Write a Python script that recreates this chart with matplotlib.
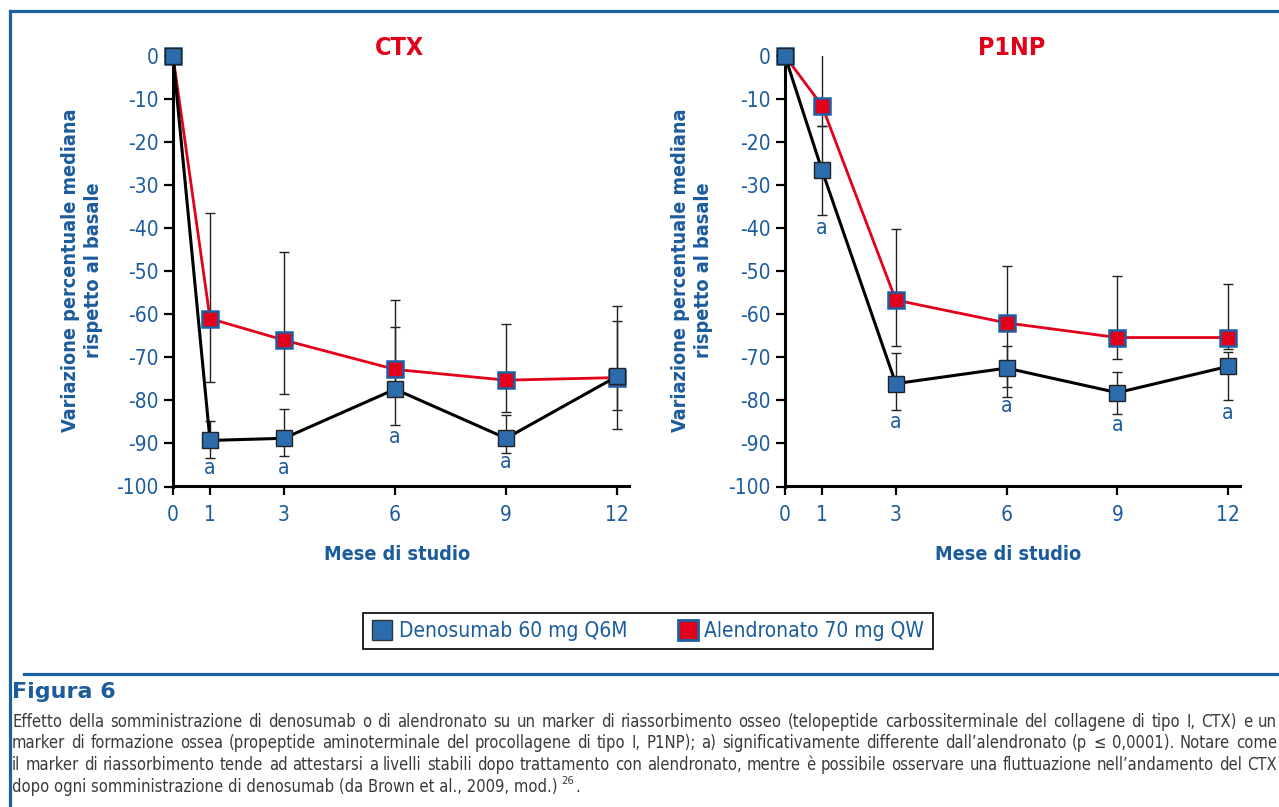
import matplotlib
matplotlib.use('Agg')
import matplotlib.pyplot as plt
from matplotlib import font_manager
from matplotlib.font_manager import FontProperties
from matplotlib.lines import Line2D

# ---- data ----
months = [0, 1, 3, 6, 9, 12]
tick_labels = ['0', '1', '3', '6', '9', '12']
y_ticks = [0, -10, -20, -30, -40, -50, -60, -70, -80, -90, -100]

ctx_deno = [0, -89.3, -88.8, -77.4, -88.8, -74.4]
ctx_deno_hi = [0, -84.8, -82.0, -63.0, -83.3, -61.6]
ctx_deno_lo = [0, -93.4, -93.0, -85.8, -92.3, -86.7]
ctx_alen = [0, -61.0, -66.0, -72.8, -75.3, -74.7]
ctx_alen_hi = [0, -36.5, -45.5, -56.6, -62.2, -58.1]
ctx_alen_lo = [0, -75.7, -78.5, -77.5, -82.6, -82.2]
ctx_sig_x = [1, 3, 6, 9]
ctx_sig_y = [-95.6, -95.6, -88.6, -94.4]

p1np_deno = [0, -26.5, -76.1, -72.5, -78.2, -72.1]
p1np_deno_hi = [0, -16.3, -69.1, -67.4, -73.4, -68.8]
p1np_deno_lo = [0, -37.0, -82.2, -79.2, -83.1, -80.0]
p1np_alen = [0, -11.5, -56.7, -62.0, -65.4, -65.4]
p1np_alen_hi = [0, 1.2, -40.1, -48.8, -51.2, -52.9]
p1np_alen_lo = [0, -16.3, -67.4, -77.0, -70.3, -68.0]
p1np_sig_x = [1, 3, 6, 9, 12]
p1np_sig_y = [-39.9, -85.0, -81.4, -85.7, -82.9]

legend_labels = ['Denosumab 60 mg Q6M', 'Alendronato 70 mg QW']

caption_title = 'Figura 6'
caption_lines = [
    'Effetto della somministrazione di denosumab o di alendronato su un marker di riassorbimento osseo (telopeptide carbossiterminale del collagene di tipo I, CTX) e un',
    'marker di formazione ossea (propeptide aminoterminale del procollagene di tipo I, P1NP); a) significativamente differente dall\u2019alendronato (p \u2264 0,0001). Notare come',
    'il marker di riassorbimento tende ad attestarsi a livelli stabili dopo trattamento con alendronato, mentre \u00e8 possibile osservare una fluttuazione nell\u2019andamento del CTX',
    'dopo ogni somministrazione di denosumab (da Brown et al., 2009, mod.)',
]

# ---- style ----
W, H = 1279, 807
BLUE_TXT = '#1c5c9c'
BLUE_MK = '#2c6cad'
RED = '#e2001a'
FRAME = '#1d5fa3'


def pick_font(bold):
    # look for a narrow / condensed face among installed fonts
    best = None
    for f in font_manager.fontManager.ttflist:
        fn = f.fname.lower()
        narrow = ('narrow' in fn or 'condensed' in fn or f.stretch in ('condensed', 'semi-condensed'))
        if not narrow or f.style != 'normal' or 'extra' in fn or 'semi' in fn and 'condensed' not in fn:
            continue
        is_bold = f.weight in (700, 'bold') or 'bold' in fn
        if is_bold != bold:
            continue
        rank = 0 if 'liberation' in fn else 1 if 'dejavu' in fn else 2
        if best is None or rank < best[0]:
            best = (rank, f.fname)
    return best[1] if best else None


REG_FILE = pick_font(False)
BOLD_FILE = pick_font(True)


def fp(size, bold=False):
    fname = BOLD_FILE if bold else REG_FILE
    if fname:
        return FontProperties(fname=fname, size=size)
    return FontProperties(family='DejaVu Sans', size=size, weight='bold' if bold else 'normal')


fig = plt.figure(figsize=(W / 100, H / 100), dpi=100)


def px_axes(left, right, top, bottom):
    return fig.add_axes([left / W, 1 - bottom / H, (right - left) / W, (bottom - top) / H])


def panel(ax, deno, deno_hi, deno_lo, alen, alen_hi, alen_lo, sig_x, sig_y):
    x = months[1:]
    err_a = [[a - l for a, l in zip(alen[1:], alen_lo[1:])],
             [h - a for a, h in zip(alen[1:], alen_hi[1:])]]
    err_d = [[d - l for d, l in zip(deno[1:], deno_lo[1:])],
             [h - d for d, h in zip(deno[1:], deno_hi[1:])]]
    ax.errorbar(x, alen[1:], yerr=err_a, fmt='none', ecolor='#222222',
                elinewidth=1.0, capsize=3.5, capthick=1.0, zorder=2)
    ax.errorbar(x, deno[1:], yerr=err_d, fmt='none', ecolor='#222222',
                elinewidth=1.0, capsize=3.5, capthick=1.0, zorder=2)
    ax.plot(months, alen, color=RED, lw=2.0, marker='s', ms=11, mfc=RED,
            mec=FRAME, mew=1.8, zorder=3, clip_on=False)
    ax.plot(months, deno, color='black', lw=2.2, marker='s', ms=11, mfc=BLUE_MK,
            mec='#222222', mew=1.0, zorder=4, clip_on=False)
    for sx, sy in zip(sig_x, sig_y):
        ax.text(sx, sy, 'a', ha='center', va='center', color=BLUE_TXT,
                fontproperties=fp(15))

    ax.set_xlim(0, 12.32)
    ax.set_ylim(-100, 0)
    ax.set_xticks(months)
    ax.set_xticklabels(tick_labels)
    ax.set_yticks(y_ticks)
    ax.set_yticklabels([str(v) for v in y_ticks])
    for s in ['top', 'right']:
        ax.spines[s].set_visible(False)
    for s in ['left', 'bottom']:
        ax.spines[s].set_linewidth(2.2)
    ax.tick_params(axis='both', direction='out', length=6.5, width=1.6,
                   colors='black', labelcolor=BLUE_TXT)
    ax.tick_params(axis='x', pad=7)
    ax.tick_params(axis='y', pad=4)
    for lab in ax.get_xticklabels() + ax.get_yticklabels():
        lab.set_fontproperties(fp(15))
    ax.patch.set_alpha(0)


ax1 = px_axes(173, 629, 56, 486.5)
panel(ax1, ctx_deno, ctx_deno_hi, ctx_deno_lo, ctx_alen, ctx_alen_hi, ctx_alen_lo,
      ctx_sig_x, ctx_sig_y)
ax2 = px_axes(785, 1240, 56, 486.5)
panel(ax2, p1np_deno, p1np_deno_hi, p1np_deno_lo, p1np_alen, p1np_alen_hi, p1np_alen_lo,
      p1np_sig_x, p1np_sig_y)


def ptext(x, y, s, **kw):
    return fig.text(x / W, 1 - y / H, s, **kw)


ylab = 'Variazione percentuale mediana\nrispetto al basale'
for cx, tx, title, lx in [(82, 400, 'CTX', 397), (692, 1012, 'P1NP', 1008)]:
    ptext(cx, 270, ylab, rotation=90, ha='center', va='center', ma='center',
          color=BLUE_TXT, fontproperties=fp(14.2, True), linespacing=1.25)
    ptext(tx, 48, title, ha='center', va='center', color=RED, fontproperties=fp(18, True))
    ptext(lx, 555, 'Mese di studio', ha='center', va='center', color=BLUE_TXT,
          fontproperties=fp(14.2, True))

# legend
h1 = Line2D([], [], ls='none', marker='s', ms=15, mfc=BLUE_MK, mec='#333333', mew=1.0)
h2 = Line2D([], [], ls='none', marker='s', ms=15, mfc=RED, mec=FRAME, mew=2.0)
leg = fig.legend([h1, h2], legend_labels, loc='center',
                 bbox_to_anchor=(648 / W, 1 - 631 / H), ncol=2, frameon=True,
                 fancybox=False, edgecolor='black', framealpha=1,
                 prop=fp(15), handlelength=1.0,
                 handletextpad=0.3, columnspacing=2.4, borderpad=0.4)
leg.get_frame().set_linewidth(1.2)
for t in leg.get_texts():
    t.set_color(BLUE_TXT)

# frame lines
fig.add_artist(Line2D([10 / W, 10 / W], [0, 1 - 11 / H], color=FRAME, lw=2.3))
fig.add_artist(Line2D([10 / W, 1], [1 - 11 / H, 1 - 11 / H], color=FRAME, lw=2.3))
fig.add_artist(Line2D([24 / W, 1], [1 - 673.5 / H, 1 - 673.5 / H], color=FRAME, lw=2.3))

# caption
ptext(12, 692, caption_title, ha='left', va='center', color=BLUE_TXT, fontsize=16,
      weight='heavy', family='DejaVu Sans')

renderer = fig.canvas.get_renderer()
x0, x1 = 12, 1277
# fit caption font so the longest line fits with ordinary spacing
cap_size = 13.0
widest = 0
for line in caption_lines:
    p = ptext(0, 0, line, fontproperties=fp(cap_size))
    widest = max(widest, p.get_window_extent(renderer).width)
    p.remove()
if widest > (x1 - x0) * 0.99:
    cap_size = cap_size * (x1 - x0) * 0.99 / widest

cap_kw = dict(color='#3a3a3a', fontproperties=fp(cap_size), va='center', ha='left')
line_y = [722, 743.5, 765, 786.5]
for line, ly in zip(caption_lines[:-1], line_y[:-1]):
    words = line.split(' ')
    ts = [ptext(0, ly, w, **cap_kw) for w in words]
    widths = [t.get_window_extent(renderer).width for t in ts]
    gap = (x1 - x0 - sum(widths)) / (len(words) - 1)
    x = x0
    for t, w in zip(ts, widths):
        t.set_x(x / W)
        x += w + gap
last = ptext(x0, line_y[-1], caption_lines[-1], **cap_kw)
right = last.get_window_extent(renderer).x1
sup = ptext(right + 4, line_y[-1] - 5, '26', color='#3a3a3a', fontproperties=fp(8),
            va='center', ha='left')
r2 = sup.get_window_extent(renderer).x1
ptext(r2 + 1, line_y[-1], '.', **cap_kw)

fig.savefig('out.png', dpi=100)
